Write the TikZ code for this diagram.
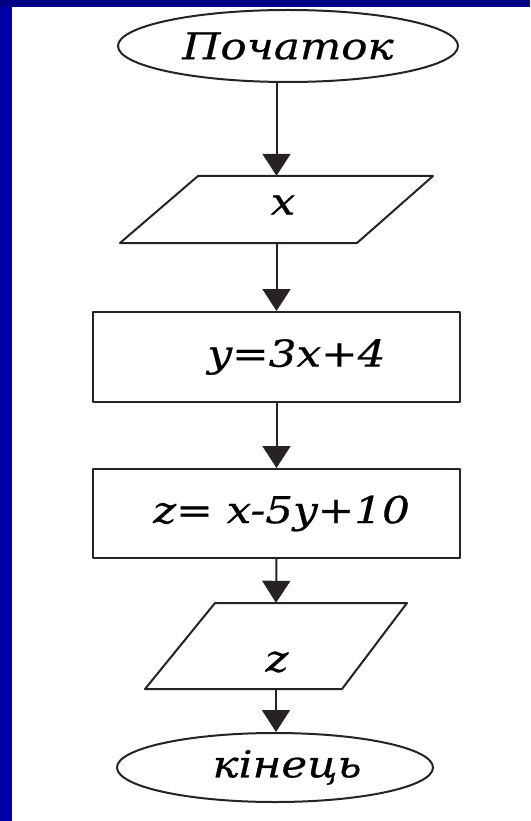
\documentclass[tikz,border=0pt]{standalone}
\usepackage{fontspec}
\setmainfont{DejaVu Serif}
\newfontfamily\flowfont{DejaVu Serif}[FakeStretch=1.18,FakeBold=0.6]
\usetikzlibrary{arrows.meta,shapes.geometric}
\definecolor{frameblue}{RGB}{0,0,165}
\definecolor{ink}{RGB}{38,34,38}
\tikzset{
  shapeline/.style={draw=ink, line width=2pt, line join=round},
  bigtext/.style={font=\flowfont\itshape\fontsize{37}{37}\selectfont},
  termbox/.style={shapeline, ellipse, inner sep=0pt, bigtext},
  procbox/.style={shapeline, rectangle, inner sep=0pt, minimum width=367pt, bigtext},
  ioanchor/.style={inner sep=0pt, minimum width=4pt},
  flowtext/.style={inner sep=0pt, bigtext},
  flow/.style={draw=ink, line width=2pt, -{Triangle[width=28pt,length=22pt]}}
}
\begin{document}
\begin{tikzpicture}[x=1pt,y=-1pt]
\useasboundingbox (0,0) rectangle (530,821);
\fill[white] (0,0) rectangle (530,821);
\fill[frameblue] (0,0) rectangle (12,821);
\fill[frameblue!80!black] (0,0) rectangle (530,7);

% start
\node[termbox, minimum width=340pt, minimum height=72pt] (e1) at (288,46) {Початок};

% input x
\node[ioanchor, minimum height=67pt] (p1) at (276.5,209.5) {};
\draw[shapeline] (120,243) -- (357,243) -- (433,176) -- (198,176) -- cycle;
\node[flowtext] (xt) at (283,205) {x};

% process 1
\node[procbox, minimum height=90pt] (r1) at (276.5,357) {\hspace*{40pt}y=3x+4};

% process 2
\node[procbox, minimum height=89pt] (r2) at (276.5,513.5) {\hspace*{10pt}z= x-5y+10};

% output z
\node[ioanchor, minimum height=86pt] (p2) at (276,646) {};
\draw[shapeline] (145,689) -- (342,689) -- (407,603) -- (215,603) -- cycle;
\node[flowtext] (zt) at (277,662) {z};

% end
\node[termbox, minimum width=316pt, minimum height=69pt] (e2) at (275,767.5) {\hspace*{24pt}кінець};

% connectors
\draw[flow] (p1.north |- e1.south) -- (p1.north);
\draw[flow] (p1.south) -- (r1.north);
\draw[flow] (r1.south) -- (r2.north);
\draw[flow] (r2.south) -- (p2.north);
\draw[flow] (p2.south) -- (p2.south |- e2.north);
\end{tikzpicture}
\end{document}
